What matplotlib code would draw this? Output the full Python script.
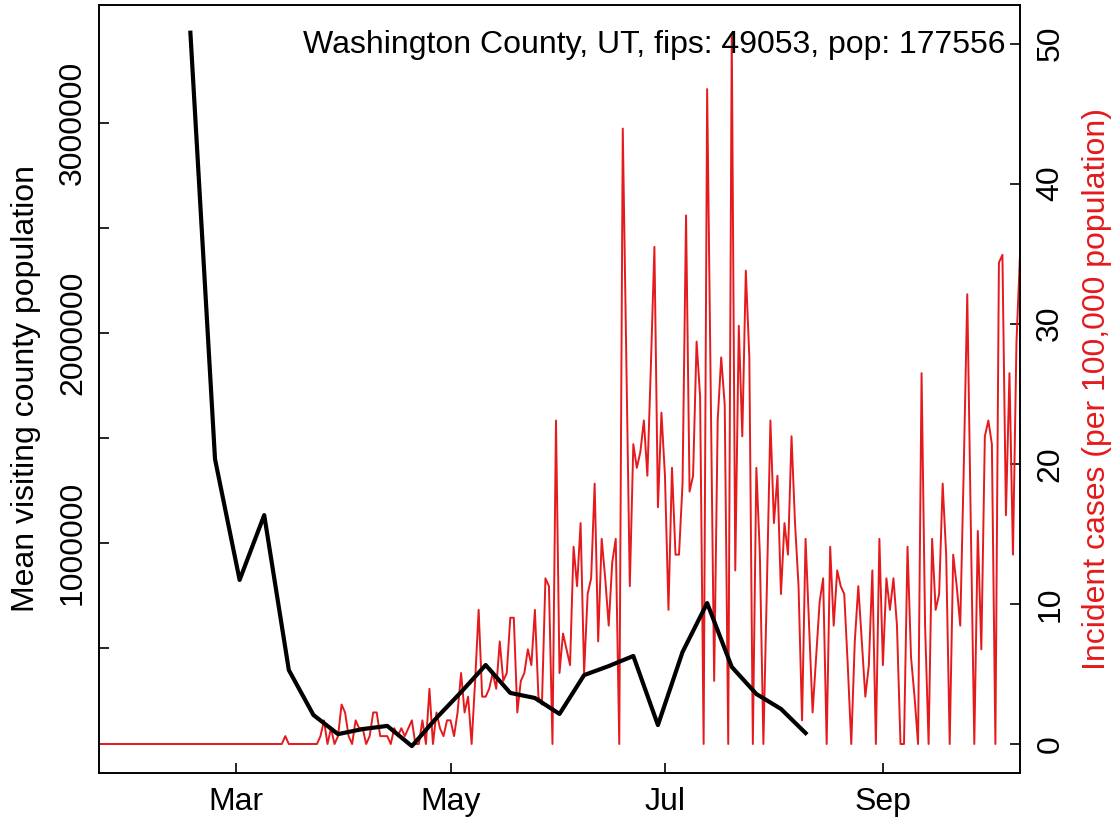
import numpy as np
import matplotlib
matplotlib.use("Agg")
import matplotlib.pyplot as plt
from matplotlib.ticker import FixedLocator

plt.rcParams['font.family'] = ['Liberation Sans', 'DejaVu Sans']

pop = 177556
title = "Washington County, UT, fips: 49053, pop: 177556"

# weekly mean visiting population (black)
visit_dates = ["2020-02-17", "2020-02-24", "2020-03-02", "2020-03-09", "2020-03-16",
               "2020-03-23", "2020-03-30", "2020-04-06", "2020-04-13", "2020-04-20",
               "2020-04-27", "2020-05-04", "2020-05-11", "2020-05-18", "2020-05-25",
               "2020-06-01", "2020-06-08", "2020-06-15", "2020-06-22", "2020-06-29",
               "2020-07-06", "2020-07-13", "2020-07-20", "2020-07-27", "2020-08-03",
               "2020-08-10"]
visit_pop = [3430000, 1400000, 824000, 1133000, 395000,
             181000, 90000, 114000, 129000, 33000,
             167000, 290000, 419000, 286000, 262000,
             186000, 371000, 414000, 462000, 133000,
             481000, 714000, 410000, 281000, 210000,
             95000]

# daily new cases, 2020-01-22 .. 2020-10-10
case_start = "2020-01-22"
daily_cases = [
    0, 0, 0, 0, 0, 0, 0, 0, 0, 0,
    0, 0, 0, 0, 0, 0, 0, 0, 0, 0,
    0, 0, 0, 0, 0, 0, 0, 0, 0, 0,
    0, 0, 0, 0, 0, 0, 0, 0, 0, 0,
    0, 0, 0, 0, 0, 0, 0, 0, 0, 0,
    0, 0, 0, 1, 0, 0, 0, 0, 0, 0,
    0, 0, 0, 1, 3, 0, 2, 0, 1, 5,
    4, 1, 0, 3, 2, 2, 0, 1, 4, 4,
    1, 1, 1, 0, 2, 1, 2, 1, 2, 3,
    0, 0, 3, 0, 7, 0, 4, 2, 1, 3,
    3, 1, 4, 9, 4, 6, 0, 8, 17, 6,
    6, 7, 9, 7, 13, 8, 9, 16, 16, 4,
    8, 9, 12, 10, 17, 6, 5, 21, 20, 0,
    41, 9, 14, 12, 10, 25, 20, 28, 9, 19,
    21, 33, 13, 26, 21, 15, 23, 26, 0, 78,
    49, 20, 38, 35, 37, 41, 34, 48, 63, 30,
    42, 34, 17, 35, 24, 24, 33, 67, 32, 34,
    51, 44, 0, 83, 45, 8, 41, 49, 43, 0,
    90, 22, 53, 39, 60, 49, 0, 35, 24, 0,
    20, 41, 28, 34, 19, 28, 24, 39, 28, 20,
    3, 26, 15, 4, 11, 18, 21, 0, 25, 15,
    22, 20, 19, 10, 0, 13, 20, 13, 6, 10,
    22, 0, 26, 10, 21, 17, 21, 15, 0, 0,
    25, 11, 6, 0, 47, 15, 0, 26, 17, 19,
    33, 24, 0, 24, 20, 15, 35, 57, 28, 0,
    27, 12, 39, 41, 38, 0, 61, 62, 29, 47,
    24, 51, 62,
]

month_ticks = ["2020-03-01", "2020-05-01", "2020-07-01", "2020-09-01"]
month_labels = ["Mar", "May", "Jul", "Sep"]
left_ticks = [500000, 1000000, 1500000, 2000000, 2500000, 3000000]
left_labels = ["", "1000000", "", "2000000", "", "3000000"]
right_ticks = [0, 10, 20, 30, 40, 50]

red = "#E41A1C"
fs = 23

case_dates = np.datetime64(case_start) + np.arange(len(daily_cases))
incidence = np.array(daily_cases) / pop * 100000
vdates = np.array(visit_dates, dtype="datetime64[D]")

fig = plt.figure(figsize=(11.19, 8.22), dpi=100)
ax = fig.add_axes([99/1119, 49/822, 921/1119, 768/822])

ax.plot(vdates, visit_pop, color="black", lw=3.0, zorder=3)
ax.set_xlim(case_dates[0], case_dates[-1])
ax.set_ylim(-95200, 3562000)
ax.yaxis.set_major_locator(FixedLocator(left_ticks))
ax.set_yticklabels(left_labels)
ax.set_ylabel("Mean visiting county population", fontsize=fs, labelpad=12)

ax.set_xticks(np.array(month_ticks, dtype="datetime64[D]"))
ax.set_xticklabels(month_labels)

ax2 = ax.twinx()
ax2.plot(case_dates, incidence, color=red, lw=1.4, zorder=2)
ax2.set_ylim(-2.07, 52.75)
ax2.set_yticks(right_ticks)
ax2.set_ylabel("Incident cases (per 100,000 population)", fontsize=fs,
               color=red, labelpad=12)
ax.set_zorder(ax2.get_zorder() + 1)
ax.patch.set_visible(False)

for a in (ax, ax2):
    for s in a.spines.values():
        s.set_linewidth(1.2)
    a.tick_params(direction="in", length=7, width=1.2, labelsize=fs)
ax.tick_params(axis="x", pad=10)
ax.tick_params(axis="y", pad=8, labelrotation=90)
ax2.tick_params(axis="y", pad=11, labelrotation=90)
for lab in ax.get_yticklabels() + ax2.get_yticklabels():
    lab.set_va("center")

ax.text(0.984, 0.948, title, transform=ax.transAxes, ha="right", va="center",
        fontsize=fs)

fig.savefig("out.png", dpi=100)
